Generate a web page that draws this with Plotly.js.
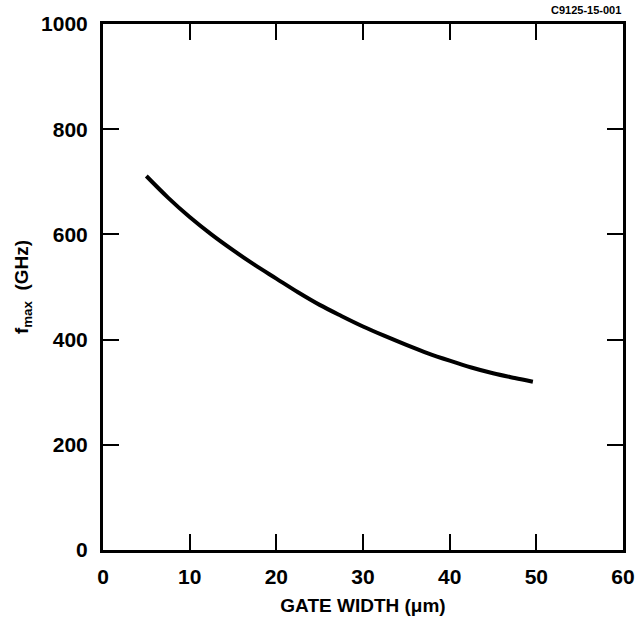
<!DOCTYPE html>
<html><head><meta charset="utf-8">
<script src="https://cdn.plot.ly/plotly-3.0.1.min.js"></script>
<style>html,body{margin:0;padding:0;background:#fff}#c{width:637px;height:618px}</style>
</head><body><div id="c"></div>
<script>
const gateWidth = [5, 7.5, 10, 12.5, 15, 17.5, 20, 22.5, 25, 27.5, 30, 32.5, 35, 37.5, 40, 42.5, 45, 47.5, 49.6];
const fmax = [711, 670, 633, 600, 570, 542, 516, 490, 466, 445, 425, 407, 390, 374, 360, 347, 336, 327, 320];
const xTicks = [0, 10, 20, 30, 40, 50, 60];
const yTicks = [0, 200, 400, 600, 800, 1000];
const figId = "C9125-15-001";

const font = {family: "Liberation Sans, Arial, sans-serif", color: "#000"};
Plotly.newPlot("c", [{
  x: gateWidth, y: fmax, mode: "lines", type: "scatter",
  line: {color: "#000", width: 4, shape: "spline", smoothing: 1},
  hoverinfo: "skip"
}], {
  width: 637, height: 618,
  margin: {l: 103, r: 14, t: 24, b: 68},
  paper_bgcolor: "#fff", plot_bgcolor: "#fff",
  showlegend: false,
  font: font,
  xaxis: {
    range: [0, 60], tickvals: xTicks, ticktext: xTicks.map(String),
    showgrid: false, zeroline: false,
    showline: true, linewidth: 3, linecolor: "#000", mirror: "ticks",
    ticks: "inside", ticklen: 16, tickwidth: 2, tickcolor: "#000",
    ticklabelstandoff: 6,
    tickfont: {family: font.family, size: 21, color: "#000", weight: "bold"},
    title: {text: "<b>GATE WIDTH (μm)</b>", font: {family: font.family, size: 19, color: "#000"}, standoff: 12}
  },
  yaxis: {
    range: [0, 1000], tickvals: yTicks, ticktext: yTicks.map(String),
    showgrid: false, zeroline: false,
    showline: true, linewidth: 3, linecolor: "#000", mirror: "ticks",
    ticks: "inside", ticklen: 16, tickwidth: 2, tickcolor: "#000",
    ticklabelstandoff: 8,
    tickfont: {family: font.family, size: 21, color: "#000", weight: "bold"},
    title: {text: "<b>f<sub>max</sub>  (GHz)</b>", font: {family: font.family, size: 19, color: "#000"}, standoff: 8}
  },
  annotations: [{
    text: "<b>" + figId + "</b>", xref: "paper", yref: "paper", x: 1.0, y: 1.0,
    xanchor: "right", yanchor: "bottom", yshift: 6, showarrow: false,
    font: {family: font.family, size: 11, color: "#000"}
  }]
}, {staticPlot: true});
</script></body></html>
